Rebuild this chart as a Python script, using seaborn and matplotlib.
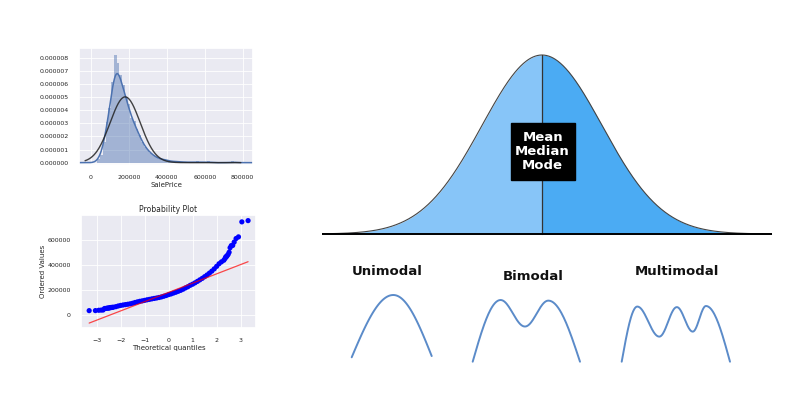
import numpy as np
import pandas as pd
import matplotlib
matplotlib.use("Agg")
import matplotlib.pyplot as plt
from matplotlib.patches import Rectangle
import seaborn as sns

# SalePrice histogram: density of each bar (in units of 1e-6), 50 equal bins
bin_start = 34900
bin_width = 14402
hist_density = [0.30, 0.60, 1.60, 3.10, 4.20, 6.20, 8.20, 7.60, 6.70, 5.90,
                5.00, 4.50, 3.40, 3.20, 2.60, 2.10, 1.60, 1.20, 1.00, 0.75,
                0.55, 0.45, 0.30, 0.25, 0.30, 0.15, 0.12, 0.10, 0.08, 0.10,
                0.05, 0.05, 0.03, 0.03, 0.05, 0.00, 0.10, 0.00, 0.05, 0.00,
                0.10, 0.00, 0.00, 0.00, 0.00, 0.00, 0.00, 0.00, 0.00, 0.10]
hist_xticks = [0, 200000, 400000, 600000, 800000]
# normal fit laid over the histogram
fit_mean = 181000
fit_std = 79400

# probability plot: theoretical quantile vs ordered SalePrice
qq_theoretical = [-3.31, -3.05, -2.91, -2.81, -2.73, -2.67, -2.61, -2.56, -2.52, -2.48,
                  -2.44, -2.41, -2.38, -2.35,
                  -2.3, -2.2, -2.1, -2.0, -1.9, -1.8, -1.7, -1.6, -1.5, -1.4,
                  -1.3, -1.2, -1.1, -1.0, -0.9, -0.8, -0.7, -0.6, -0.5, -0.4,
                  -0.3, -0.2, -0.1, 0.0, 0.1, 0.2, 0.3, 0.4, 0.5, 0.6,
                  0.7, 0.8, 0.9, 1.0, 1.1, 1.2, 1.3, 1.4, 1.5, 1.6,
                  1.7, 1.8, 1.9, 2.0, 2.1, 2.2, 2.3,
                  2.35, 2.38, 2.41, 2.44, 2.48, 2.52, 2.56, 2.61, 2.67, 2.73,
                  2.81, 2.91, 3.05, 3.31]
qq_ordered = [34900, 35311, 37900, 39300, 40000, 52000, 52500, 55000, 55000, 55993,
              58500, 60000, 60000, 61000,
              62500, 66500, 72000, 76500, 80000, 83000, 86000, 89500, 94000, 100000,
              105000, 109500, 113000, 117000, 121500, 125000, 129000, 132500, 136000, 140000,
              144500, 150000, 156000, 163000, 168500, 175500, 182000, 189500, 197000, 206000,
              216500, 226000, 237500, 246500, 257500, 269000, 281000, 293000, 306500, 320000,
              335000, 351000, 369000, 389000, 410000, 425000, 438000,
              451950, 465000, 466500, 475000, 485000, 501837, 538000, 555000, 556581, 582933,
              611657, 625000, 745000, 755000]
qq_slope = 74160
qq_intercept = 180921
qq_yticks = [0, 200000, 400000, 600000]

# bell curve (standard units)
bell_mean = 0.0
bell_std = 1.0
center_label = ["Mean", "Median", "Mode"]

# shape sketches: turning points (ends, peaks, dips), normalised
sketch_names = ["Unimodal", "Bimodal", "Multimodal"]
unimodal_x = [0.0, 0.52, 1.0]
unimodal_y = [0.0, 1.0, 0.02]
bimodal_x = [0.0, 0.26, 0.487, 0.705, 1.0]
bimodal_y = [0.0, 1.0, 0.57, 0.99, 0.0]
multimodal_x = [0.0, 0.144, 0.347, 0.509, 0.656, 0.778, 1.0]
multimodal_y = [0.0, 0.99, 0.45, 0.98, 0.54, 1.0, 0.0]

W, H = 793, 395


def box(x0, y0, x1, y1):
    # pixel box -> figure fraction rect
    return [x0 / W, 1 - y1 / H, (x1 - x0) / W, (y1 - y0) / H]


def smooth(xs, ys, n=40):
    # smooth stroke through turning points: steep at the ends, flat at peaks/dips
    outx, outy = [], []
    last = len(xs) - 2
    for i in range(len(xs) - 1):
        t = np.linspace(0, 1, n)
        if i == 0:
            e = np.sin(np.pi * t / 2)
        elif i == last:
            e = 1 - np.cos(np.pi * t / 2)
        else:
            e = (1 - np.cos(np.pi * t)) / 2
        outx.append(xs[i] + (xs[i + 1] - xs[i]) * t)
        outy.append(ys[i] + (ys[i + 1] - ys[i]) * e)
    return np.concatenate(outx), np.concatenate(outy)


sns.set_theme(style="darkgrid", rc={"grid.linewidth": 0.6,
                                    "xtick.major.pad": 1.5,
                                    "ytick.major.pad": 1.5})
fig = plt.figure(figsize=(7.93, 3.95), dpi=100)

# --- histogram with kde and normal fit
ax1 = fig.add_axes(box(79, 48, 253, 165))
edges = bin_start + bin_width * np.arange(len(hist_density) + 1)
hist_df = pd.DataFrame({"price": (edges[:-1] + edges[1:]) / 2,
                        "density": np.array(hist_density) * 1e-6})
sns.histplot(data=hist_df, x="price", weights="density", binwidth=bin_width,
             binrange=(edges[0], edges[-1]), stat="count", element="step",
             color="#4C72B0", alpha=0.45, linewidth=0, ax=ax1)
sns.kdeplot(data=hist_df, x="price", weights="density", bw_adjust=0.4,
            color="#4C72B0", linewidth=1.1, ax=ax1)
xs = np.linspace(-30000, 790000, 400)
fit = np.exp(-0.5 * ((xs - fit_mean) / fit_std) ** 2) / (fit_std * np.sqrt(2 * np.pi))
ax1.plot(xs, fit, color="#222222", linewidth=1.0, alpha=0.85)
ax1.set_xlim(-62000, 854000)
ax1.set_ylim(-0.18e-6, 8.76e-6)
ax1.set_xticks(hist_xticks)
ax1.set_xticklabels([str(t) for t in hist_xticks], fontsize=4.5)
yt = [i * 1e-6 for i in range(9)]
ax1.set_yticks(yt)
ax1.set_yticklabels([f"{v:.6f}" for v in yt], fontsize=4.5)
ax1.set_xlabel("SalePrice", fontsize=5, labelpad=1)
ax1.set_ylabel("")

# --- probability plot
ax2 = fig.add_axes(box(81, 215, 256, 328))
sns.scatterplot(x=qq_theoretical, y=qq_ordered, color="#0000FF", s=14,
                edgecolor="none", ax=ax2)
qline = np.array([qq_theoretical[0], qq_theoretical[-1]])
ax2.plot(qline, qq_intercept + qq_slope * qline, color="#FF0000", alpha=0.7,
         linewidth=0.9)
ax2.set_xlim(-3.65, 3.64)
ax2.set_ylim(-104000, 800000)
ax2.set_xticks([-3, -2, -1, 0, 1, 2, 3])
ax2.set_yticks(qq_yticks)
ax2.set_yticklabels([str(t) for t in qq_yticks], fontsize=4.5)
ax2.tick_params(axis="x", labelsize=4.5)
ax2.set_title("Probability Plot", fontsize=5.5, pad=2)
ax2.set_xlabel("Theoretical quantiles", fontsize=5, labelpad=1)
ax2.set_ylabel("Ordered Values", fontsize=5, labelpad=1)

# --- bell curve
ax3 = fig.add_axes(box(322, 45, 772, 240))
ax3.set_axis_off()
z = np.linspace(-3.667, 3.833, 801)
pdf = np.exp(-0.5 * ((z - bell_mean) / bell_std) ** 2) / (bell_std * np.sqrt(2 * np.pi))
peak = pdf.max()
left = z <= bell_mean
right = z >= bell_mean
ax3.fill_between(z[left], 0, pdf[left], color="#87C5F8", linewidth=0)
ax3.fill_between(z[right], 0, pdf[right], color="#4BABF3", linewidth=0)
ax3.plot(z, pdf, color="#444444", linewidth=0.8)
ax3.plot([bell_mean, bell_mean], [0, peak], color="#333333", linewidth=0.9)
ax3.axhline(0, color="black", linewidth=1.4)
ax3.set_xlim(-3.667, 3.833)
ax3.set_ylim(-0.01337, 0.42123)
ax3.add_patch(Rectangle((-0.517, 0.1203), 1.067, 0.1271, color="black", zorder=5))
ax3.text(0.01, 0.1838, "\n".join(center_label), color="white", fontsize=9.5,
         fontweight="bold", ha="center", va="center", linespacing=1.12, zorder=6)

# --- modality sketches
sketches = [(unimodal_x, unimodal_y, (351.7, 295, 431.7, 357.3)),
            (bimodal_x, bimodal_y, (472.7, 300, 580, 361.7)),
            (multimodal_x, multimodal_y, (621.7, 306, 730, 361.7))]
for kx, ky, b in sketches:
    ax = fig.add_axes(box(*b))
    ax.set_axis_off()
    sx, sy = smooth(kx, ky)
    ax.plot(sx, sy, color="#5B8BC9", linewidth=1.4, clip_on=False)
    ax.set_xlim(0, 1)
    ax.set_ylim(0, 1)

label_pos = [(387.5, 271.7), (533.3, 276.7), (676.7, 271.7)]
for name, (lx, ly) in zip(sketch_names, label_pos):
    fig.text(lx / W, 1 - ly / H, name, fontsize=9.5, fontweight="bold",
             color="#111111", ha="center", va="center")

fig.savefig("out.png", dpi=100)
